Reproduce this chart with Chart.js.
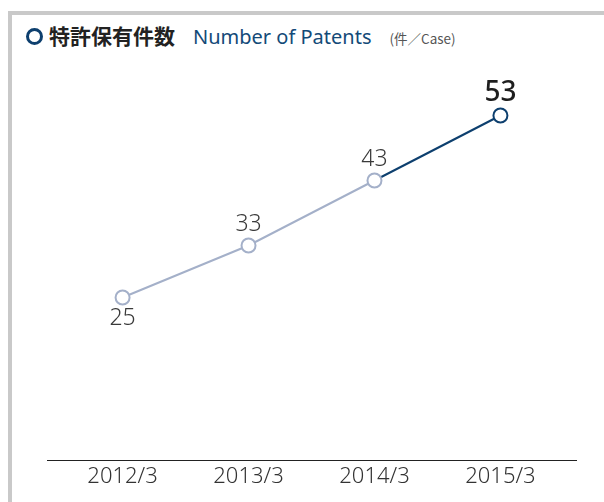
<!DOCTYPE html>
<html>
<head>
<meta charset="utf-8">
<script src="https://cdn.jsdelivr.net/npm/chart.js@4"></script>
<style>
  html, body { margin: 0; padding: 0; background: #fff; }
  body { width: 604px; height: 502px; position: relative; overflow: hidden; }
  .frame {
    position: absolute; left: 8px; top: 11px; width: 620px; height: 520px;
    border-top: 4px solid #c9c9c9; border-left: 4px solid #c9c9c9;
  }
  .title {
    position: absolute; left: 26px; top: 20px; white-space: nowrap;
    font-family: "Noto Sans CJK JP", "Noto Sans", sans-serif;
  }
  .icon {
    display: inline-block; width: 11px; height: 11px; border: 3px solid #0d3f6e;
    border-radius: 50%; vertical-align: -1px; margin-right: 6px;
  }
  .ja { font-size: 21px; font-weight: bold; color: #222; }
  .en { font-family: "Noto Sans", sans-serif; font-size: 20px; color: #134a78; margin-left: 18px; }
  .unit { font-size: 13.5px; color: #555; margin-left: 18px; }
  #wrap { position: absolute; left: 0; top: 0; width: 604px; height: 502px; }
</style>
</head>
<body>
<div class="frame"></div>
<div class="title"><span class="icon"></span><span class="ja">特許保有件数</span><span class="en">Number of Patents</span><span class="unit">(件／Case)</span></div>
<div id="wrap"><canvas id="chart"></canvas></div>
<script>
  // Data
  const years = ['2012/3', '2013/3', '2014/3', '2015/3'];
  const patents = [25, 33, 43, 53];

  const light = '#a4b0c9';
  const dark = '#0d3f6e';
  const last = patents.length - 1;

  // Value labels above/below each point
  const valueLabels = {
    id: 'valueLabels',
    afterDatasetsDraw(chart) {
      const ctx = chart.ctx;
      const pts = chart.getDatasetMeta(0).data;
      ctx.save();
      ctx.textAlign = 'center';
      pts.forEach((p, i) => {
        const isLast = i === last;
        ctx.fillStyle = isLast ? '#1e1e1e' : '#3a3a3a';
        ctx.font = (isLast ? '500 28px' : '300 23px') + ' "Noto Sans", sans-serif';
        if (i === 0) {
          ctx.textBaseline = 'top';
          ctx.fillText(patents[i], p.x, p.y + 9);
        } else {
          ctx.textBaseline = 'alphabetic';
          ctx.fillText(patents[i], p.x, p.y - 15);
        }
      });
      ctx.restore();
    }
  };

  new Chart(document.getElementById('chart'), {
    type: 'line',
    data: {
      datasets: [{
        data: patents.map((v, i) => ({ x: i, y: v })),
        borderWidth: 2,
        borderColor: light,
        segment: {
          borderColor: c => c.p1DataIndex === last ? dark : light
        },
        pointRadius: 7,
        pointHoverRadius: 7,
        pointBorderWidth: 2,
        pointBackgroundColor: '#fff',
        pointBorderColor: patents.map((v, i) => i === last ? dark : light),
        tension: 0
      }]
    },
    options: {
      responsive: true,
      maintainAspectRatio: false,
      animation: false,
      layout: { padding: { top: 70, left: 47, right: 28, bottom: 0 } },
      plugins: { legend: { display: false }, tooltip: { enabled: false } },
      scales: {
        x: {
          type: 'linear',
          min: -0.6,
          max: 3.6,
          grid: { display: false, drawTicks: false },
          border: { display: true, color: '#222', width: 1 },
          afterBuildTicks: s => { s.ticks = years.map((y, i) => ({ value: i })); },
          afterFit: s => { s.height = 42; },
          ticks: {
            padding: 4,
            color: '#333',
            font: { family: '"Noto Sans", sans-serif', size: 22, weight: 300 },
            callback: v => years[v]
          }
        },
        y: {
          display: false,
          min: 0,
          max: 60
        }
      }
    },
    plugins: [valueLabels]
  });
</script>
</body>
</html>
